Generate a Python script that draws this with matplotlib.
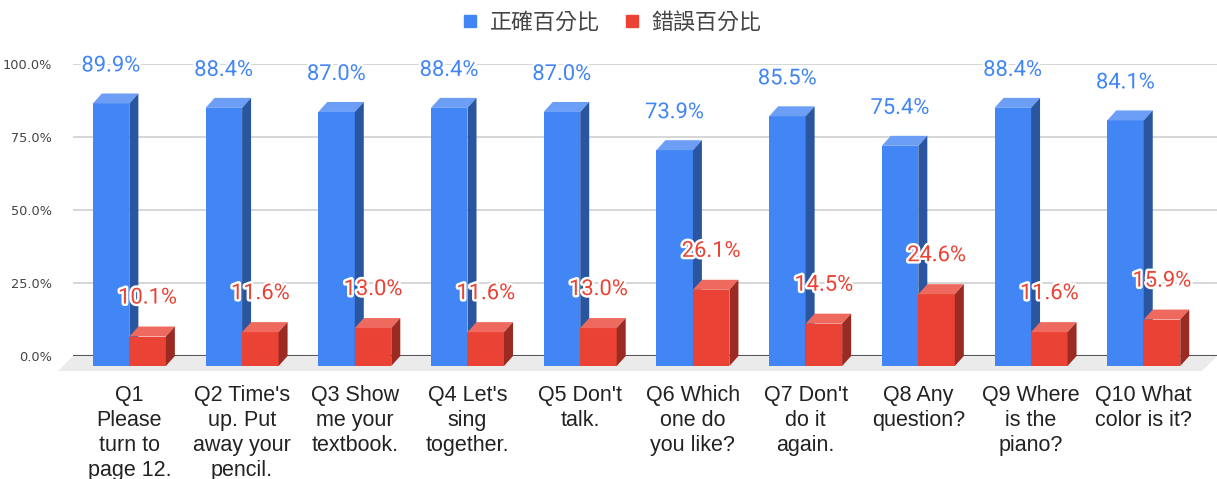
import matplotlib
matplotlib.use("Agg")
import matplotlib.pyplot as plt
from matplotlib.patches import Polygon
from matplotlib.lines import Line2D
import matplotlib.patheffects as pe
import numpy as np

categories = [
    "Q1\nPlease\nturn to\npage 12.",
    "Q2 Time's\nup. Put\naway your\npencil.",
    "Q3 Show\nme your\ntextbook.",
    "Q4 Let's\nsing\ntogether.",
    "Q5 Don't\ntalk.",
    "Q6 Which\none do\nyou like?",
    "Q7 Don't\ndo it\nagain.",
    "Q8 Any\nquestion?",
    "Q9 Where\nis the\npiano?",
    "Q10 What\ncolor is it?",
]
correct = [89.9, 88.4, 87.0, 88.4, 87.0, 73.9, 85.5, 75.4, 88.4, 84.1]
wrong = [10.1, 11.6, 13.0, 11.6, 13.0, 26.1, 14.5, 24.6, 11.6, 15.9]
series_names = ["正確百分比", "錯誤百分比"]
yticks = [0, 25, 50, 75, 100]

# colours: front, top, side
blue = ("#4285f4", "#6c9ef6", "#2a56a0")
red = ("#ea4335", "#ee6a5e", "#9b2a22")

W, H = 1217, 479
fig = plt.figure(figsize=(W / 100, H / 100), dpi=100)
ax = fig.add_axes([73 / W, 123 / H, 1144 / W, 292 / H])
xlo, xhi = -0.58, 9.57
ax.set_xlim(xlo, xhi)
ax.set_ylim(0, 100)

# depth of the fake 3d in data units
px_x = 1144 / (xhi - xlo)
px_y = 292 / 100
ddx = 9 / px_x
ddy = 10 / px_y
fdx = 15 / px_x
fdy = 15 / px_y

x = np.arange(len(categories))
bw = 36.5 / px_x

# floor
floor = Polygon([(xlo, 0), (xhi, 0), (xhi - fdx, -fdy), (xlo - fdx, -fdy)],
                closed=True, facecolor="#ebebeb", edgecolor="none", zorder=0.5,
                clip_on=False)
ax.add_patch(floor)
ax.axhline(0, color="#555555", lw=1.5, zorder=1)

ax.set_yticks(yticks)
ax.set_yticklabels([f"{v:.1f}%" for v in yticks])
ax.yaxis.grid(True, color="#d3d3d3", lw=1.3, zorder=0)
ax.set_axisbelow(True)
for s in ax.spines.values():
    s.set_visible(False)
ax.tick_params(axis="y", length=0, pad=15, labelsize=9.3, labelcolor="#444444")


def draw_bar(xl, v, cols, z):
    xr = xl + bw
    ax.bar(xl, v, bw, bottom=-ddy, align="edge", color=cols[0], zorder=z,
           clip_on=False, linewidth=0)
    top = Polygon([(xl, v - ddy), (xr, v - ddy), (xr + ddx, v), (xl + ddx, v)],
                  closed=True, facecolor=cols[1], edgecolor="none", zorder=z,
                  clip_on=False)
    side = Polygon([(xr, -ddy), (xr, v - ddy), (xr + ddx, v), (xr + ddx, 0)],
                   closed=True, facecolor=cols[2], edgecolor="none", zorder=z,
                   clip_on=False)
    ax.add_patch(top)
    ax.add_patch(side)


stroke = [pe.withStroke(linewidth=3.5, foreground="white")]
for i in range(len(categories)):
    xc = x[i] - ddx
    draw_bar(xc - bw, correct[i], blue, 2 + i * 0.1)
    draw_bar(xc, wrong[i], red, 2.05 + i * 0.1)

for i in range(len(categories)):
    xc = x[i] - ddx
    ax.annotate(f"{correct[i]:.1f}%", (xc - bw / 2, correct[i]), xytext=(0, 19.8),
                textcoords="offset points", ha="center", va="center",
                fontsize=15.8, family="Roboto", color="#4285f4", zorder=10,
                path_effects=stroke, annotation_clip=False)
    ax.annotate(f"{wrong[i]:.1f}%", (xc + bw / 2, wrong[i]), xytext=(0, 20.5),
                textcoords="offset points", ha="center", va="center",
                fontsize=15.8, family="Roboto", color="#ea4335", zorder=10,
                path_effects=stroke, annotation_clip=False)

ax.set_xticks(x - ddx)
ax.set_xticklabels(categories, fontsize=15.5, family="Liberation Sans",
                   color="#222222", linespacing=1.24)
ax.tick_params(axis="x", length=0, pad=21)

handles = [Line2D([], [], marker="s", ls="", color=blue[0], markersize=9),
           Line2D([], [], marker="s", ls="", color=red[0], markersize=9)]
fig.legend(handles, series_names, loc="center", bbox_to_anchor=(0.503, 1 - 23 / H),
           ncol=2, frameon=False, handlelength=0.7, handletextpad=0.55,
           columnspacing=1.1,
           prop={"family": ["Noto Sans CJK TC", "DejaVu Sans"], "size": 15.8},
           labelcolor="#444444")

fig.savefig("out.png", dpi=100)
